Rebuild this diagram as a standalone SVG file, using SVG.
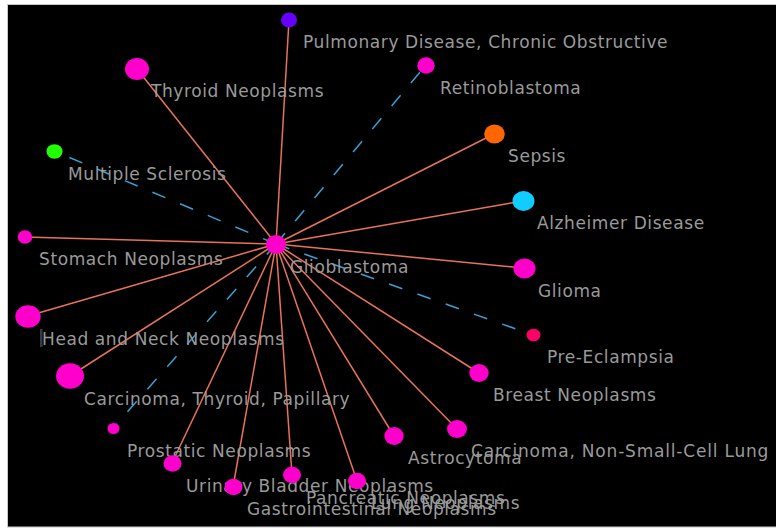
<svg xmlns="http://www.w3.org/2000/svg" width="776" height="529" viewBox="0 0 776 529">
<style>
.bg{fill:#000;stroke:#c8c8c8;stroke-width:1}
.e{stroke:#e8735a;stroke-width:1.5;fill:none}
.d{stroke:#3aa0d4;stroke-width:1.5;fill:none;stroke-dasharray:14 16}
.n{fill:#ff00cc}
text{font-family:"DejaVu Sans","Liberation Sans",sans-serif;font-size:17px;letter-spacing:0.6px;fill:#9a9a9a}
</style>
<rect x="0" y="0" width="776" height="529" fill="#fff"/>
<rect class="bg" x="7.5" y="4.5" width="770" height="522.5"/>
<g id="connectors">
<line class="e" x1="276" y1="244" x2="289" y2="20"/>
<line class="e" x1="276" y1="244" x2="137" y2="69"/>
<line class="d" x1="276" y1="244" x2="426" y2="65"/>
<line class="d" x1="276" y1="244" x2="54" y2="151"/>
<line class="e" x1="276" y1="244" x2="494" y2="134"/>
<line class="e" x1="276" y1="244" x2="523" y2="201"/>
<line class="e" x1="276" y1="244" x2="25" y2="237"/>
<line class="e" x1="276" y1="244" x2="524" y2="268"/>
<line class="e" x1="276" y1="244" x2="28" y2="316"/>
<line class="d" x1="276" y1="244" x2="533" y2="335"/>
<line class="e" x1="276" y1="244" x2="70" y2="376"/>
<line class="e" x1="276" y1="244" x2="479" y2="373"/>
<line class="d" x1="276" y1="244" x2="113" y2="428"/>
<line class="e" x1="276" y1="244" x2="457" y2="429"/>
<line class="e" x1="276" y1="244" x2="394" y2="436"/>
<line class="e" x1="276" y1="244" x2="172" y2="463"/>
<line class="e" x1="276" y1="244" x2="233" y2="487"/>
<line class="e" x1="276" y1="244" x2="292" y2="475"/>
<line class="e" x1="276" y1="244" x2="357" y2="481"/>
</g>
<rect x="40" y="329" width="2.5" height="18" fill="#3a3a3a"/>
<g id="pulmonary"><ellipse cx="289" cy="20" rx="8" ry="7.5" fill="#6600ff"/><text x="303" y="48">Pulmonary Disease, Chronic Obstructive</text></g>
<g id="thyroid"><ellipse class="n" cx="137" cy="69" rx="12" ry="11"/><text x="151" y="97">Thyroid Neoplasms</text></g>
<g id="retinoblastoma"><ellipse class="n" cx="426" cy="65.5" rx="8.7" ry="8.3"/><text x="440" y="94">Retinoblastoma</text></g>
<g id="multiple-sclerosis"><ellipse cx="54.5" cy="151.5" rx="8" ry="7.3" fill="#22ff00"/><text x="68" y="180">Multiple Sclerosis</text></g>
<g id="sepsis"><ellipse cx="494.5" cy="134" rx="10.3" ry="9.5" fill="#ff6600"/><text x="508" y="162">Sepsis</text></g>
<g id="alzheimer"><ellipse cx="523.5" cy="201" rx="11" ry="10" fill="#11ccff"/><text x="537" y="229">Alzheimer Disease</text></g>
<g id="stomach"><ellipse class="n" cx="25" cy="237" rx="7.3" ry="6.7"/><text x="39" y="265">Stomach Neoplasms</text></g>
<g id="glioma"><ellipse class="n" cx="524.5" cy="268.5" rx="11" ry="10"/><text x="538" y="296.5">Glioma</text></g>
<g id="head-neck"><ellipse class="n" cx="28" cy="316.5" rx="12.7" ry="11.3"/><text x="42" y="345">Head and Neck Neoplasms</text></g>
<g id="pre-eclampsia"><ellipse cx="533.5" cy="335" rx="7" ry="6.3" fill="#ff0066"/><text x="547" y="363">Pre-Eclampsia</text></g>
<g id="carcinoma-thyroid"><ellipse class="n" cx="70" cy="376" rx="14" ry="12.7"/><text x="84" y="405">Carcinoma, Thyroid, Papillary</text></g>
<g id="breast"><ellipse class="n" cx="479" cy="373" rx="9.7" ry="9"/><text x="493" y="401">Breast Neoplasms</text></g>
<g id="prostatic"><ellipse class="n" cx="113.5" cy="428.5" rx="6" ry="5.5"/><text x="127" y="457">Prostatic Neoplasms</text></g>
<g id="nsclc"><ellipse class="n" cx="457" cy="429" rx="10" ry="9"/><text x="471" y="457" textLength="298" lengthAdjust="spacing">Carcinoma, Non-Small-Cell Lung</text></g>
<g id="astrocytoma"><ellipse class="n" cx="394" cy="436" rx="9.7" ry="9"/><text x="408" y="464">Astrocytoma</text></g>
<g id="urinary-bladder"><ellipse class="n" cx="172.5" cy="463.5" rx="9" ry="8.3"/><text x="186" y="492">Urinary Bladder Neoplasms</text></g>
<g id="pancreatic"><ellipse class="n" cx="292" cy="475" rx="9" ry="8.3"/><text x="306" y="503.5">Pancreatic Neoplasms</text></g>
<g id="lung"><ellipse class="n" cx="357" cy="481" rx="9" ry="8.3"/><text x="371" y="509">Lung Neoplasms</text></g>
<g id="gastrointestinal"><ellipse class="n" cx="233.5" cy="487" rx="9" ry="8.3"/><text x="247" y="515">Gastrointestinal Neoplasms</text></g>
<g id="glioblastoma"><ellipse class="n" cx="276" cy="244.5" rx="10" ry="9.5"/><text x="290" y="272.5">Glioblastoma</text></g>
</svg>
